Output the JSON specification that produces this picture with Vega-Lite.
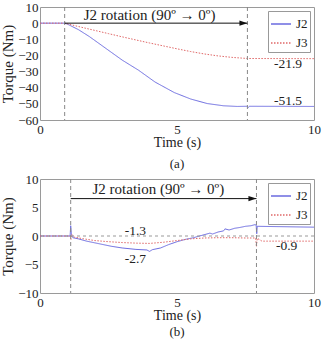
{
  "$schema": "https://vega.github.io/schema/vega-lite/v6.json",
  "background": "white",
  "padding": {"left": 0, "top": 0, "right": 10, "bottom": 0},
  "spacing": 0,
  "datasets": {
    "torqueA": [
      {"t": 0, "v": 0, "joint": "J2"}, {"t": 0.9, "v": 0, "joint": "J2"}, {"t": 1.0, "v": -0.6, "joint": "J2"},
      {"t": 1.4, "v": -4, "joint": "J2"}, {"t": 1.8, "v": -8.3, "joint": "J2"}, {"t": 2.4, "v": -15.6, "joint": "J2"},
      {"t": 3.0, "v": -22.9, "joint": "J2"}, {"t": 3.6, "v": -29.2, "joint": "J2"}, {"t": 4.2, "v": -36.5, "joint": "J2"},
      {"t": 4.9, "v": -43, "joint": "J2"}, {"t": 5.5, "v": -47, "joint": "J2"}, {"t": 6.1, "v": -49.8, "joint": "J2"},
      {"t": 6.7, "v": -51.2, "joint": "J2"}, {"t": 7.2, "v": -51.6, "joint": "J2"}, {"t": 7.57, "v": -51.5, "joint": "J2"},
      {"t": 7.6, "v": -52.2, "joint": "J2"}, {"t": 7.65, "v": -51.5, "joint": "J2"}, {"t": 10, "v": -51.6, "joint": "J2"},
      {"t": 0, "v": 0, "joint": "J3"}, {"t": 0.9, "v": 0, "joint": "J3"}, {"t": 1.5, "v": -2.5, "joint": "J3"},
      {"t": 2.0, "v": -4.5, "joint": "J3"}, {"t": 2.5, "v": -6.5, "joint": "J3"}, {"t": 3.0, "v": -8.5, "joint": "J3"},
      {"t": 3.5, "v": -10.4, "joint": "J3"}, {"t": 4.0, "v": -12.3, "joint": "J3"}, {"t": 4.5, "v": -14.1, "joint": "J3"},
      {"t": 5.0, "v": -15.9, "joint": "J3"}, {"t": 5.5, "v": -17.6, "joint": "J3"}, {"t": 6.0, "v": -19.1, "joint": "J3"},
      {"t": 6.5, "v": -20.3, "joint": "J3"}, {"t": 7.0, "v": -21.2, "joint": "J3"}, {"t": 7.57, "v": -21.9, "joint": "J3"},
      {"t": 10, "v": -22.0, "joint": "J3"}
    ],
    "torqueB": [
      {"t": 0, "v": 0, "joint": "J2"}, {"t": 1.1, "v": 0, "joint": "J2"}, {"t": 1.12, "v": 1.8, "joint": "J2"},
      {"t": 1.15, "v": 0.2, "joint": "J2"}, {"t": 1.2, "v": -0.3, "joint": "J2"}, {"t": 1.4, "v": -0.5, "joint": "J2"},
      {"t": 1.7, "v": -0.9, "joint": "J2"}, {"t": 2.0, "v": -1.2, "joint": "J2"}, {"t": 2.3, "v": -1.5, "joint": "J2"},
      {"t": 2.6, "v": -1.8, "joint": "J2"}, {"t": 3.0, "v": -2.1, "joint": "J2"}, {"t": 3.5, "v": -2.35, "joint": "J2"},
      {"t": 3.9, "v": -2.45, "joint": "J2"}, {"t": 4.0, "v": -2.7, "joint": "J2"}, {"t": 4.1, "v": -2.4, "joint": "J2"},
      {"t": 4.4, "v": -2.1, "joint": "J2"}, {"t": 4.7, "v": -1.5, "joint": "J2"}, {"t": 5.0, "v": -1.0, "joint": "J2"},
      {"t": 5.3, "v": -0.6, "joint": "J2"}, {"t": 5.6, "v": -0.3, "joint": "J2"}, {"t": 5.9, "v": 0.1, "joint": "J2"},
      {"t": 6.2, "v": 0.5, "joint": "J2"}, {"t": 6.3, "v": 0.35, "joint": "J2"}, {"t": 6.5, "v": 0.7, "joint": "J2"},
      {"t": 6.7, "v": 0.9, "joint": "J2"}, {"t": 6.75, "v": 1.25, "joint": "J2"}, {"t": 6.9, "v": 1.05, "joint": "J2"},
      {"t": 7.1, "v": 1.35, "joint": "J2"}, {"t": 7.3, "v": 1.5, "joint": "J2"}, {"t": 7.5, "v": 1.7, "joint": "J2"},
      {"t": 7.7, "v": 1.8, "joint": "J2"}, {"t": 7.85, "v": 2.0, "joint": "J2"}, {"t": 7.89, "v": 1.9, "joint": "J2"},
      {"t": 7.91, "v": 0.4, "joint": "J2"}, {"t": 7.93, "v": 1.7, "joint": "J2"}, {"t": 10, "v": 1.55, "joint": "J2"},
      {"t": 0, "v": 0, "joint": "J3"}, {"t": 1.1, "v": 0, "joint": "J3"}, {"t": 1.13, "v": -0.6, "joint": "J3"},
      {"t": 1.16, "v": 0.3, "joint": "J3"}, {"t": 1.25, "v": -0.2, "joint": "J3"}, {"t": 1.6, "v": -0.5, "joint": "J3"},
      {"t": 2.0, "v": -0.8, "joint": "J3"}, {"t": 2.5, "v": -1.0, "joint": "J3"}, {"t": 3.0, "v": -1.15, "joint": "J3"},
      {"t": 3.5, "v": -1.25, "joint": "J3"}, {"t": 4.0, "v": -1.3, "joint": "J3"}, {"t": 4.5, "v": -1.1, "joint": "J3"},
      {"t": 5.0, "v": -0.8, "joint": "J3"}, {"t": 5.5, "v": -0.5, "joint": "J3"}, {"t": 6.0, "v": -0.35, "joint": "J3"},
      {"t": 6.5, "v": -0.3, "joint": "J3"}, {"t": 7.0, "v": -0.3, "joint": "J3"}, {"t": 7.5, "v": -0.35, "joint": "J3"},
      {"t": 7.87, "v": -0.35, "joint": "J3"}, {"t": 7.9, "v": -1.9, "joint": "J3"}, {"t": 7.93, "v": -0.4, "joint": "J3"},
      {"t": 8.1, "v": -0.9, "joint": "J3"}, {"t": 10, "v": -0.9, "joint": "J3"}
    ],
    "phaseA": [{"t": 0.9}, {"t": 7.57}],
    "phaseB": [{"t": 1.12}, {"t": 7.9}],
    "arrowA": [{"t0": 0.9, "t1": 7.57, "v": 0, "tx": 4.0, "vt": 4.8, "label": "J2 rotation (90º → 0º)"}],
    "arrowB": [{"t0": 1.12, "t1": 7.9, "v": 6.56, "tx": 4.32, "vt": 8.2, "label": "J2 rotation (90º → 0º)"}],
    "valuesA": [
      {"t": 9.05, "v": -25, "label": "-21.9"},
      {"t": 9.05, "v": -48, "label": "-51.5"}
    ],
    "valuesB": [
      {"t": 3.48, "v": 0.9, "label": "-1.3"},
      {"t": 3.48, "v": -4.1, "label": "-2.7"},
      {"t": 9.0, "v": 2.9, "label": "2.0"},
      {"t": 9.0, "v": -1.75, "label": "-0.9"}
    ]
  },
  "config": {
    "font": "Liberation Serif",
    "view": {"stroke": "#9a9a9a", "strokeWidth": 1},
    "axis": {
      "labelFont": "Liberation Serif", "labelFontSize": 13, "labelColor": "#222",
      "titleFont": "Liberation Serif", "titleFontSize": 14, "titleFontWeight": "normal", "titleColor": "#222",
      "domain": false, "grid": false, "ticks": false, "labelOverlap": false, "labelFlush": false
    },
    "axisX": {"labelPadding": 3, "titlePadding": -1},
    "axisY": {"labelPadding": 2, "titleFontSize": 15, "titlePadding": 2},
    "legend": {
      "orient": "top-right", "offset": 4, "fillColor": "white", "strokeColor": "#999",
      "padding": 2, "rowPadding": 1, "symbolType": "stroke", "symbolSize": 400, "symbolStrokeWidth": 1.5,
      "labelFont": "Liberation Serif", "labelFontSize": 13, "labelColor": "#222", "labelOffset": 4
    },
    "title": {"font": "Liberation Serif", "fontSize": 13, "fontWeight": "normal", "color": "#222"}
  },
  "resolve": {
    "scale": {"x": "independent", "y": "independent", "color": "independent", "strokeDash": "independent"},
    "legend": {"color": "independent", "strokeDash": "independent"}
  },
  "vconcat": [
    {
      "width": 274, "height": 113,
      "title": {"text": "(a)", "orient": "bottom", "offset": 9},
      "layer": [
        {
          "data": {"name": "torqueA"},
          "mark": {"type": "line", "strokeWidth": 1},
          "encoding": {
            "x": {"field": "t", "type": "quantitative", "scale": {"domain": [0, 10]}, "axis": {"values": [0, 5, 10], "title": "Time (s)"}},
            "y": {"field": "v", "type": "quantitative", "scale": {"domain": [-60, 10], "nice": false}, "axis": {"tickCount": 7, "title": "Torque (Nm)"}},
            "color": {"field": "joint", "type": "nominal", "scale": {"domain": ["J2", "J3"], "range": ["#6b6be0", "#e06868"]}, "legend": {"title": null}},
            "strokeDash": {"field": "joint", "type": "nominal", "scale": {"domain": ["J2", "J3"], "range": [[1, 0], [1.5, 1.5]]}, "legend": {"title": null}}
          }
        },
        {
          "data": {"name": "phaseA"},
          "mark": {"type": "rule", "color": "#888", "strokeDash": [4, 3], "strokeWidth": 1},
          "encoding": {"x": {"field": "t", "type": "quantitative"}}
        },
        {
          "data": {"name": "arrowA"},
          "mark": {"type": "rule", "color": "#111", "strokeWidth": 1},
          "encoding": {"x": {"field": "t0", "type": "quantitative"}, "x2": {"field": "t1"}, "y": {"field": "v", "type": "quantitative"}}
        },
        {
          "data": {"name": "arrowA"},
          "mark": {"type": "point", "shape": "M0,0L-2,-0.65L-2,0.65Z", "filled": true, "color": "#111", "size": 64, "opacity": 1},
          "encoding": {"x": {"field": "t1", "type": "quantitative"}, "y": {"field": "v", "type": "quantitative"}}
        },
        {
          "data": {"name": "arrowA"},
          "mark": {"type": "text", "font": "Liberation Serif", "fontSize": 15, "color": "#222", "baseline": "middle", "align": "center"},
          "encoding": {"x": {"field": "tx", "type": "quantitative"}, "y": {"field": "vt", "type": "quantitative"}, "text": {"field": "label"}}
        },
        {
          "data": {"name": "valuesA"},
          "mark": {"type": "text", "font": "Liberation Serif", "fontSize": 13.5, "color": "#222", "baseline": "middle", "align": "center"},
          "encoding": {"x": {"field": "t", "type": "quantitative"}, "y": {"field": "v", "type": "quantitative"}, "text": {"field": "label"}}
        }
      ]
    },
    {
      "width": 274, "height": 114,
      "title": {"text": "(b)", "orient": "bottom", "offset": 4},
      "layer": [
        {
          "data": {"name": "torqueB"},
          "mark": {"type": "line", "strokeWidth": 1},
          "encoding": {
            "x": {"field": "t", "type": "quantitative", "scale": {"domain": [0, 10]}, "axis": {"values": [0, 5, 10], "title": "Time (s)"}},
            "y": {"field": "v", "type": "quantitative", "scale": {"domain": [-10, 10], "nice": false}, "axis": {"tickCount": 4, "title": "Torque (Nm)"}},
            "color": {"field": "joint", "type": "nominal", "scale": {"domain": ["J2", "J3"], "range": ["#6b6be0", "#e06868"]}, "legend": {"title": null}},
            "strokeDash": {"field": "joint", "type": "nominal", "scale": {"domain": ["J2", "J3"], "range": [[1, 0], [1.5, 1.5]]}, "legend": {"title": null}}
          }
        },
        {
          "data": {"name": "phaseB"},
          "mark": {"type": "rule", "color": "#888", "strokeDash": [4, 3], "strokeWidth": 1},
          "encoding": {"x": {"field": "t", "type": "quantitative"}}
        },
        {
          "data": {"values": [{"v": 0}]},
          "mark": {"type": "rule", "color": "#999", "strokeDash": [3, 3], "strokeWidth": 1},
          "encoding": {"y": {"field": "v", "type": "quantitative"}}
        },
        {
          "data": {"name": "arrowB"},
          "mark": {"type": "rule", "color": "#111", "strokeWidth": 1},
          "encoding": {"x": {"field": "t0", "type": "quantitative"}, "x2": {"field": "t1"}, "y": {"field": "v", "type": "quantitative"}}
        },
        {
          "data": {"name": "arrowB"},
          "mark": {"type": "point", "shape": "M0,0L-2,-0.65L-2,0.65Z", "filled": true, "color": "#111", "size": 64, "opacity": 1},
          "encoding": {"x": {"field": "t1", "type": "quantitative"}, "y": {"field": "v", "type": "quantitative"}}
        },
        {
          "data": {"name": "arrowB"},
          "mark": {"type": "text", "font": "Liberation Serif", "fontSize": 15, "color": "#222", "baseline": "middle", "align": "center"},
          "encoding": {"x": {"field": "tx", "type": "quantitative"}, "y": {"field": "vt", "type": "quantitative"}, "text": {"field": "label"}}
        },
        {
          "data": {"name": "valuesB"},
          "mark": {"type": "text", "font": "Liberation Serif", "fontSize": 13.5, "color": "#222", "baseline": "middle", "align": "center"},
          "encoding": {"x": {"field": "t", "type": "quantitative"}, "y": {"field": "v", "type": "quantitative"}, "text": {"field": "label"}}
        }
      ]
    }
  ]
}
